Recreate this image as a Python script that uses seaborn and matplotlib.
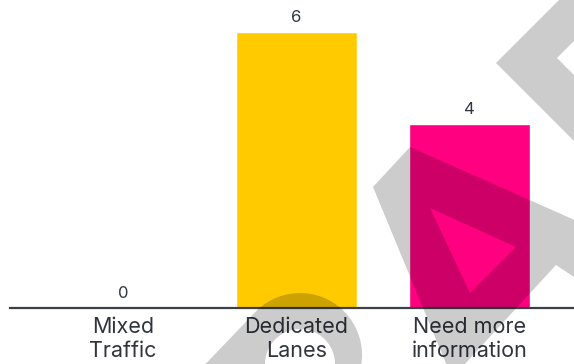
import numpy as np
import pandas as pd
import matplotlib
matplotlib.use("Agg")
import matplotlib.pyplot as plt
from matplotlib.patches import Polygon, PathPatch
from matplotlib.path import Path
import seaborn as sns

# data
categories = ["Mixed\nTraffic", "Dedicated\nLanes", "Need more\ninformation"]
counts = [0, 6, 4]
bar_colors = ["#8c8c8c", "#FFCB00", "#FF0080"]

df = pd.DataFrame({"Kategori": categories, "Antall": counts})

sns.set_style("white")
plt.rcParams["font.family"] = ["Inter", "DejaVu Sans"]

text_color = "#30353c"

fig = plt.figure(figsize=(5.74, 3.64), dpi=100)
ax = fig.add_axes([10 / 574, 56.5 / 364, 564 / 574, 307.5 / 364])

sns.barplot(data=df, x="Kategori", y="Antall", hue="Kategori",
            palette=bar_colors, saturation=1, width=0.7, legend=False, ax=ax)

ax.set_xlim(-0.652, 2.603)
ax.set_ylim(0, 6.685)
ax.set_xlabel("")
ax.set_ylabel("")
ax.set_yticks([])
for side in ["top", "left", "right"]:
    ax.spines[side].set_visible(False)
ax.spines["bottom"].set_color("#3b4047")
ax.spines["bottom"].set_linewidth(1.6)
ax.tick_params(axis="x", length=0, pad=7, labelsize=15.5, labelcolor=text_color)
for lbl in ax.get_xticklabels():
    lbl.set_linespacing(1.25)

for c in ax.containers:
    ax.bar_label(c, padding=5, fontsize=12, color=text_color)

# grå vannmerke-figurer over hele bildet (pikselkoordinater)
wm = fig.add_axes([0, 0, 1, 1], zorder=5)
wm.set_xlim(0, 574)
wm.set_ylim(364, 0)
wm.axis("off")
shade = dict(facecolor="black", alpha=0.2, edgecolor="none")

# chevron oppe til hoyre
wm.add_patch(Polygon([(496, 63), (559, 0), (615, 0), (557, 58),
                      (620, 121), (620, 187)], closed=True, **shade))

# stor trekant med hull
outer = [(373, 187), (410, 147), (640, 249), (640, 321), (556, 265), (452, 378), (373, 187)]
hole = [(430, 208), (470, 293), (516, 247), (430, 208)]
verts = outer + hole
codes = ([Path.MOVETO] + [Path.LINETO] * (len(outer) - 2) + [Path.CLOSEPOLY]
         + [Path.MOVETO] + [Path.LINETO] * (len(hole) - 2) + [Path.CLOSEPOLY])
wm.add_patch(PathPatch(Path(verts, codes), **shade))

# bue nederst
ang_out = np.radians(np.linspace(-136, 18, 60))
ang_in = np.radians(np.linspace(0, -180, 40))
arc_pts = [(195, 375)]
arc_pts += [(300 + 62 * np.cos(a), 355 + 62 * np.sin(a)) for a in ang_out]
arc_pts += [(366, 375), (335, 375)]
arc_pts += [(300 + 35 * np.cos(a), 364 + 35 * np.sin(a)) for a in ang_in]
arc_pts += [(265, 375)]
wm.add_patch(Polygon(arc_pts, closed=True, **shade))

fig.savefig("out.png", dpi=100)
